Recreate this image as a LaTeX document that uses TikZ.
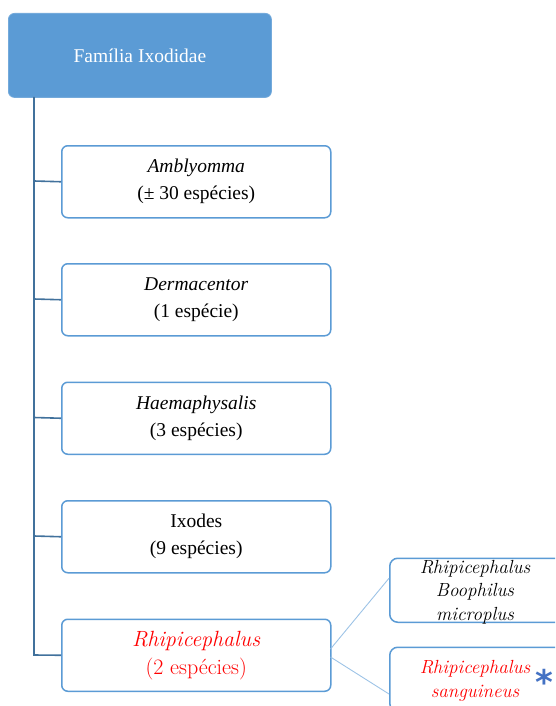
\documentclass[tikz,border=0pt]{standalone}
\usepackage{fontspec}
\setmainfont{Liberation Serif}
\newfontfamily\lmfont{Latin Modern Roman}
\newfontfamily\dvsans{DejaVu Sans}
\definecolor{hdr}{HTML}{5B9BD5}
\definecolor{trunk}{HTML}{41719C}
\definecolor{boxline}{HTML}{5B9BD5}
\definecolor{thin}{HTML}{9DC3E6}
\definecolor{redtxt}{HTML}{FF0000}
\definecolor{star}{HTML}{4472C4}
\tikzset{
  hdrbox/.style={draw=hdr!85!white, fill=hdr, rounded corners=6pt, line width=0.8pt, minimum width=263pt, minimum height=84pt, anchor=north west, text=white, font=\fontsize{19.5}{27}\selectfont, inner sep=0pt},
  genbox/.style={draw=boxline, fill=white, rounded corners=6pt, line width=1.5pt, minimum width=269pt, minimum height=72pt, anchor=north west, align=center, font=\fontsize{19.5}{27}\selectfont, inner sep=0pt},
  sppbox/.style={draw=boxline, fill=white, rounded corners=8pt, line width=1.5pt, minimum width=180pt, minimum height=64pt, anchor=north west, inner sep=0pt},
  trunkline/.style={draw=trunk, line width=1.6pt},
  branch/.style={draw=thin, line width=0.9pt},
}
\begin{document}
\begin{tikzpicture}[x=1pt,y=-1pt]
\useasboundingbox (0,0) rectangle (555,706);
\clip (0,0) rectangle (555,706);
\node[hdrbox] (fam) at (8,13) {Família Ixodidae};
\coordinate (top) at (34,97);
\coordinate (bot) at (34,655);
\node[genbox] (amb) at (61,145) {\textit{Amblyomma}\\(± 30 espécies)};
\node[genbox] (der) at (61,263) {\textit{Dermacentor}\\(1 espécie)};
\node[genbox] (hae) at (61,381.5) {\textit{Haemaphysalis}\\(3 espécies)};
\node[genbox] (ixo) at (61,500) {Ixodes\\(9 espécies)};
\node[genbox, text=redtxt, font=\lmfont\fontsize{22}{28}\selectfont] (rhi) at (61,618.5) {\textit{Rhipicephalus}\\(2 espécies)};
\draw[trunkline] (top) -- (bot) -- (rhi.west);
\draw[trunkline] (34,181) -- (amb.west);
\draw[trunkline] (34,299) -- (der.west);
\draw[trunkline] (34,417.5) -- (hae.west);
\draw[trunkline] (34,536) -- (ixo.west);
\node[sppbox] (boo) at (389,557.5) {};
\node[sppbox] (san) at (389,646.5) {};
\node[align=center, font=\lmfont\itshape\fontsize{19}{23.5}\selectfont, inner sep=0pt, anchor=base] (boot) at (475,620) {Rhipicephalus\\Boophilus\\microplus};
\node[align=center, text=redtxt, font=\lmfont\itshape\fontsize{19}{24}\selectfont, inner sep=0pt, anchor=base] (sant) at (475,697) {Rhipicephalus\\sanguineus};
\node[text=star, font=\dvsans\bfseries\fontsize{34}{34}\selectfont, inner sep=0pt] (ast) at (544,682) {*};
\coordinate (r1) at (330.5,649);
\coordinate (r2) at (330.5,657);
\coordinate (b1) at ([yshift=12pt]boo.west);
\coordinate (b2) at (389,694);
\draw[branch] (r1) -- (b1);
\draw[branch] (r2) -- (b2);
\end{tikzpicture}
\end{document}
